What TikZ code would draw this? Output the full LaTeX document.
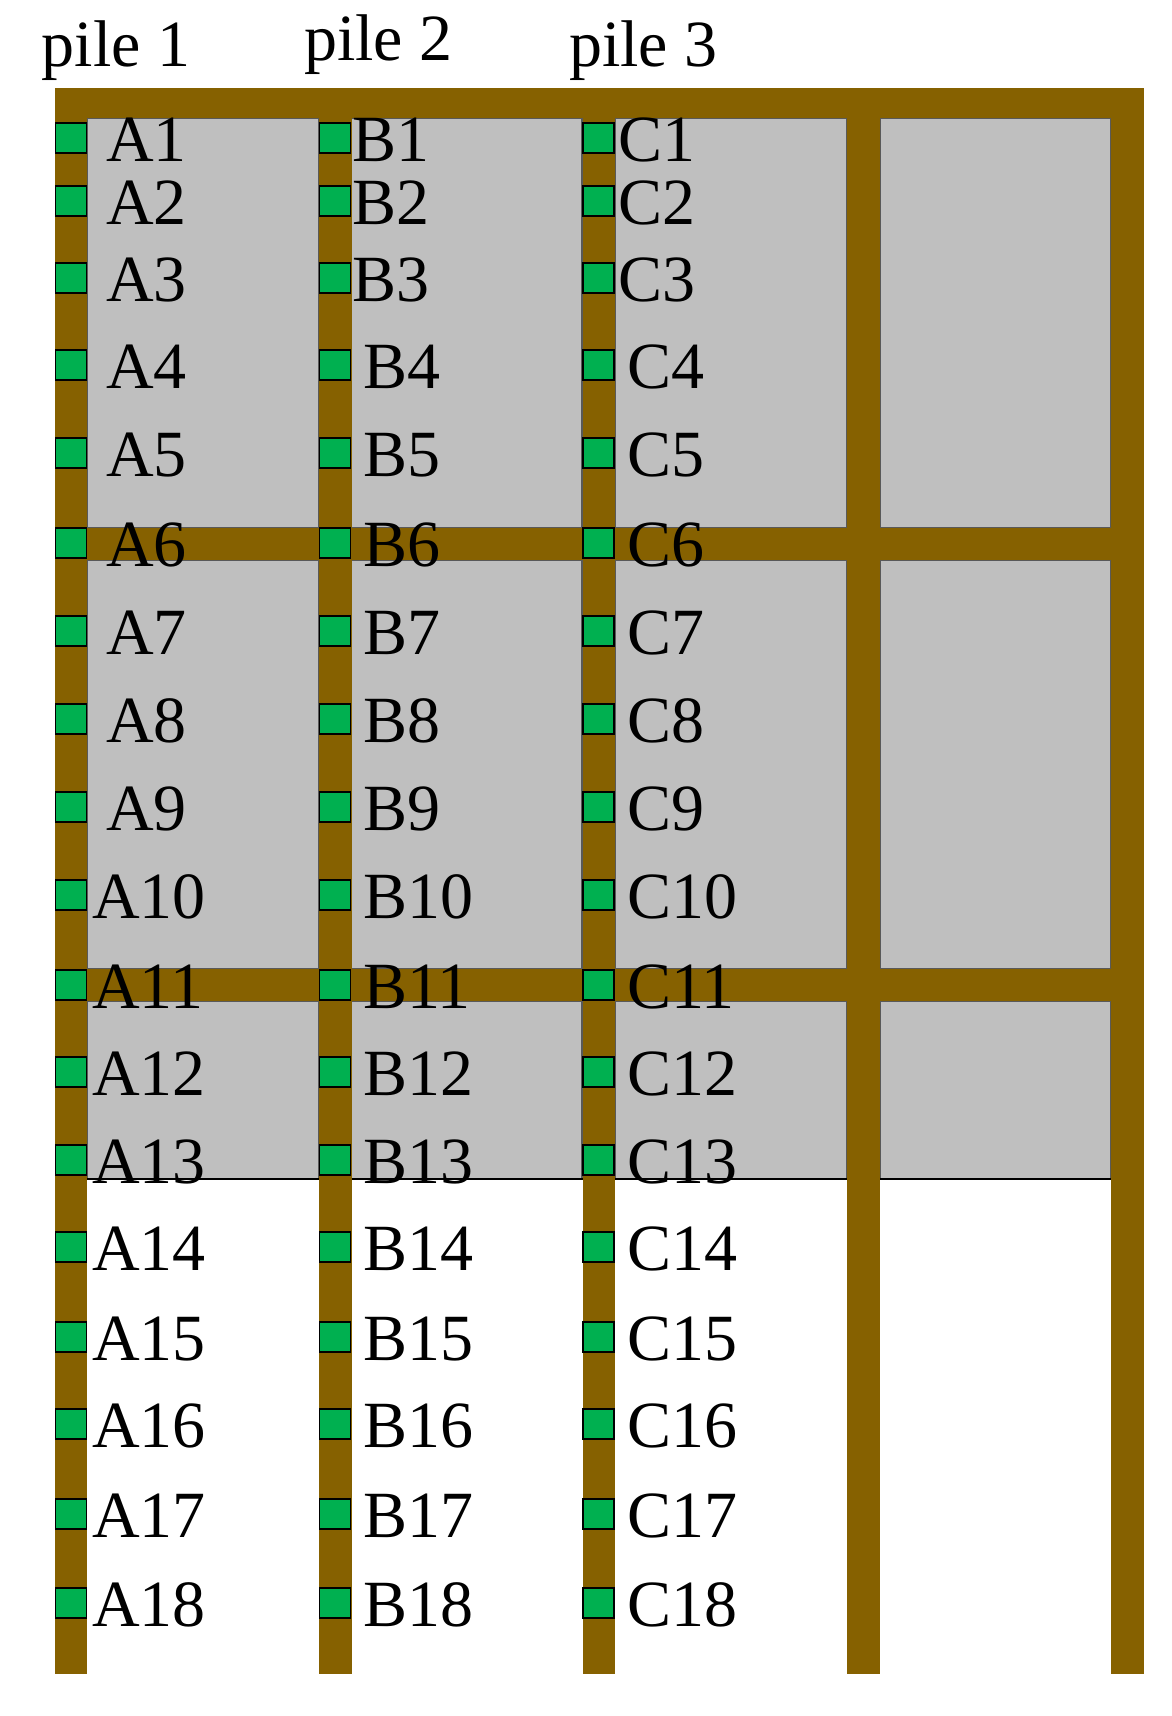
\documentclass[tikz,border=0pt]{standalone}
\usepackage{fontspec}
\setmainfont{Liberation Serif}
\definecolor{pillar}{RGB}{134,97,0}
\definecolor{cellgray}{RGB}{191,191,191}
\definecolor{sensor}{RGB}{0,176,80}
\begin{document}
\begin{tikzpicture}[x=1pt,y=-1pt,
  cell/.style={fill=cellgray,draw=black!65,line width=1.2pt},
  beam/.style={fill=pillar},
  sensorbox/.style={shape=rectangle,draw=black,fill=sensor,line width=1.5pt,minimum width=31pt,minimum height=30pt,inner sep=0pt},
  lbl/.style={anchor=base west,inner sep=0pt,font=\fontsize{66}{72}\selectfont}]
\useasboundingbox (0,0) rectangle (1172,1716);
% gray cells
\foreach \xa/\xb in {87.4/319,351/582,615/847,880/1111}{
  \foreach \ya/\yb in {118/528,560/969,1001/1179}{
    \draw[cell] (\xa,\ya) rectangle (\xb,\yb);
  }
}
\draw[black,line width=1.5pt] (87.4,1179) -- (1111,1179);
% beams
\fill[beam] (54.6,87.5) rectangle (1143.5,118);
\fill[beam] (54.6,528) rectangle (1143.5,560);
\fill[beam] (54.6,969) rectangle (1143.5,1001);
% pillars
\foreach \x in {54.6,319,582.5,847,1111}{
  \fill[beam] (\x,87.5) rectangle ++(32.5,1586.5);
}
% pile labels
\node[lbl] (pile1) at (41.5,66) {pile 1};
\node[lbl] (pile2) at (304,60) {pile 2};
\node[lbl] (pile3) at (569,66) {pile 3};
% sensors and labels
\foreach \y [count=\i] in {138,201,278,365,453,543,631,719,807,895,985,1072,1160,1247,1337,1424,1514,1603}{
  \node[sensorbox] (sA\i) at (71,\y) {};
  \node[sensorbox] (sB\i) at (335,\y) {};
  \node[sensorbox] (sC\i) at (598.5,\y) {};
  \ifnum\i<10 \def\xA{106}\else\def\xA{92}\fi
  \ifnum\i<4 \def\xB{352}\def\xC{618}\else\def\xB{363}\def\xC{627}\fi
  \node[lbl] (lA\i) at (\xA,\y+23) {A\i};
  \node[lbl] (lB\i) at (\xB,\y+23) {B\i};
  \node[lbl] (lC\i) at (\xC,\y+23) {C\i};
}
\end{tikzpicture}
\end{document}
